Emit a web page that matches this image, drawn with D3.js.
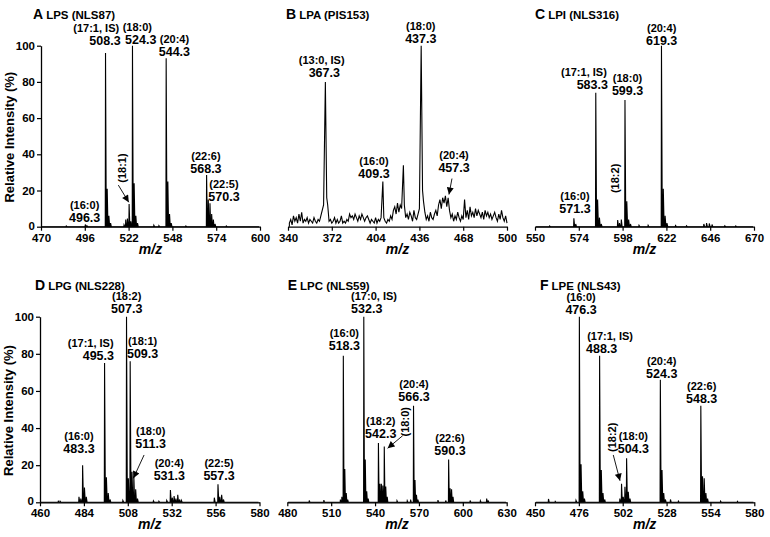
<!DOCTYPE html>
<html><head><meta charset="utf-8">
<script src="https://cdn.jsdelivr.net/npm/d3@7"></script>
<style>
body{margin:0;background:#fff}
svg{display:block}
text{font-family:"Liberation Sans",Arial,Helvetica,sans-serif;font-weight:bold;fill:#000}
</style>
</head><body>
<svg id="chart" width="770" height="537"></svg>
<script>
// ---------------- DATA ----------------
const yTickValues = [0, 20, 40, 60, 80, 100];

const ticksA = [470, 496, 522, 548, 574, 600];
const ticksB = [340, 372, 404, 436, 468, 500];
const ticksC = [550, 574, 598, 622, 646, 670];
const ticksD = [460, 484, 508, 532, 556, 580];
const ticksE = [480, 510, 540, 570, 600, 630];
const ticksF = [450, 476, 502, 528, 554, 580];

// [m/z, relative intensity %]
const peaksA = [[485,0.4],[496.3,1.2],[497.3,0.5],[508.3,96],[509.3,21],[510.3,6],[511.3,2],[519.3,1],[520.3,4],[521.3,4.5],[522.3,12.5],[523.3,3],
  [524.3,100],[525.3,24],[526.3,6],[527.3,2],[537,0.8],[540,0.6],[544.3,93],[545.3,25],[546.3,7],[547.3,2],[556,0.4],
  [568.3,28.5],[569.3,15],[570.3,13],[571.3,7],[572.3,4],[573.3,1.5],[580,0.4]];

const peaksB = [[367.3,80],[368.3,16],[409.3,25],[424.3,34],[437.3,100],[438.3,20]];
const noiseStartB = 341;
const noiseB = [2,4,1,6,3,5,2,7,3,8,2,4,3,5,2,4,3,2,5,3,2,4,3,6,9,12,0,0,12,3,4,2,3,5,2,4,2,3,6,2,3,2,4,3,7,5,6,4,7,5,3,6,4,7,5,3,5,6,4,2,
  4,3,2,5,2,4,3,5,0,5,3,2,4,3,6,4,9,11,7,13,8,12,10,0,12,5,7,4,8,6,3,9,5,4,7,10,0,0,14,8,4,6,3,8,5,4,7,9,6,12,15,10,16,13,17,11,16,9,
  5,7,3,6,4,8,5,3,6,4,15,5,9,4,11,6,8,5,10,6,9,7,5,8,4,9,6,8,5,7,4,6,8,5,3,7,4,9,5,3,6,2];

const peaksC = [[558,0.4],[571.3,4.6],[572.3,1.5],[583.3,74],[584.3,15],[585.3,5],[586.3,1.5],[595.3,3.7],[596.3,2],[597.3,4],
  [599.3,70],[600.3,14],[601.3,4],[602.3,1.5],[607,0.8],[612,0.8],[619.3,100],[620.3,21],[621.3,6],[622.3,2],[627,0.6],[633,0.5],
  [642.5,1.5],[644,2],[645.5,1.8],[647,1.2],[654,0.5],[660,0.4]];

const peaksD = [[470,0.6],[471,0.6],[481.3,3],[482.3,2],[483.3,20],[484.3,8],[485.3,3],[495.3,75],[496.3,13.5],[497.3,5],[498.3,1.5],
  [505.3,1],[507.3,100],[508.3,13],[509.3,76],[510.3,16.5],[511.3,14],[512.3,7],[513.3,2],[522,0.8],[525,0.6],[529.3,1],
  [531.3,6.6],[532.3,2.5],[533.3,3.4],[534.3,2],[535.3,4],[536.3,1.5],[537.3,1],[555.3,2.5],[557.3,9.7],[558.3,3],[559.3,4],[560.3,1.5]];

const peaksE = [[495,1],[505,1.2],[516.3,1.5],[517.3,3],[518.3,79],[519.3,18],[520.3,5],[521.3,1.5],[532.3,100],[533.3,23],[534.3,6],
  [535.3,2],[542.3,32],[543.3,10],[544.3,10],[545.3,9],[546.3,30],[547.3,8.5],[548.3,3],[555,0.8],[562,0.8],[564.3,1.5],[566.3,52],
  [567.3,12],[568.3,4],[569.3,1.5],[583,1.2],[588.3,1],[590.3,23],[591.3,7.5],[592.3,7],[593.3,3],[605,1],[612,0.8],[616.3,2],[617.3,1]];

const peaksF = [[458,1.8],[462,0.5],[474.3,1],[476.3,100],[477.3,20.5],[478.3,6],[479.3,2],[488.3,79],[489.3,17.4],[490.3,5],[491.3,1.5],
  [500.3,2],[501.3,10],[502.3,3],[503.3,8.4],[504.3,23.7],[505.3,5.7],[506.3,2],[524.3,66],[525.3,17.4],[526.3,5],[527.3,1.5],
  [530.3,1.5],[535,0.6],[548.3,52],[549.3,14],[550.3,13],[551.3,5],[552.3,2],[560,0.6],[570,0.5]];

// annotations: [line1, line2, m/z centre line1, m/z centre line2, intensity at baseline of line2]
const annA = [["(16:0)","496.3",495.9,495.9,2.8],["(17:1, IS)","508.3",502.8,508.0,100.4],["(18:0)","524.3",527.2,529.2,100.9],
  ["(20:4)","544.3",549.2,549.2,94.3],["(22:6)","568.3",567.9,567.9,29.8],["(22:5)","570.3",578.6,578.6,14.2]];
const annB = [["(13:0, IS)","367.3",364.6,366.5,82.5],["(16:0)","409.3",402.8,402.8,26.7],["(18:0)","437.3",437.0,437.0,101.7],
  ["(20:4)","457.3",461.3,461.3,30.4]];
const annC = [["(17:1, IS)","583.3",576.8,581.4,75.9],["(18:0)","599.3",600.7,600.7,72.8],["(20:4)","619.3",619.4,619.4,100.4],
  ["(16:0)","571.3",571.9,571.9,7.4]];
const annD = [["(16:0)","483.3",481.3,481.3,26.7],["(17:1, IS)","495.3",487.7,491.9,76.7],["(18:2)","507.3",507.4,507.4,101.8],
  ["(18:1)","509.3",516.1,516.1,77.9],["(18:0)","511.3",520.5,520.5,29.1],["(20:4)","531.3",530.7,530.7,12.0],["(22:5)","557.3",557.9,557.9,12.0]];
const annE = [["(16:0)","518.3",519.0,519.0,82.1],["(17:0, IS)","532.3",539.3,534.3,102.2],["(18:2)","542.3",543.9,543.9,34.5],
  ["(20:4)","566.3",566.6,566.6,54.6],["(22:6)","590.3",591.2,591.2,25.5]];
const annF = [["(16:0)","476.3",477.3,477.3,101.3],["(17:1, IS)","488.3",494.5,489.5,80.3],["(18:0)","504.3",508.3,508.3,26.7],
  ["(20:4)","524.3",525.1,525.1,67.1],["(22:6)","548.3",548.8,548.8,53.7]];

// rotated labels: [text, m/z centre, intensity centre]
const rotA = [["(18:1)",517.9,32.4]];
const rotC = [["(18:2)",593.8,26.7]];
const rotE = [["(18:0)",560.5,43.4]];
const rotF = [["(18:2)",495.8,35.0]];

// arrows: [m/z start, intensity start, m/z tip, intensity tip]
const arrA = [[515.9,23.0,522.1,13.5]];
const arrB = [[459.8,26.6,457.6,17.8]];
const arrD = [[516.9,25.5,511.0,12.9]];
const arrE = [[558.9,35.9,548.6,29.1]];
const arrF = [[496.4,25.5,500.4,11.6]];

const titles = [["A","LPS (NLS87)"],["B","LPA (PIS153)"],["C","LPI (NLS316)"],["D","LPG (NLS228)"],["E","LPC (NLS59)"],["F","LPE (NLS43)"]];

// ---------------- LAYOUT ----------------
const panels = [
  {title:titles[0], ticks:ticksA, peaks:peaksA, ann:annA, rot:rotA, arr:arrA, xr:[41,260],    yr:[226.7,45.7], yAxis:true,  tx:33},
  {title:titles[1], ticks:ticksB, peaks:peaksB, ann:annB, rot:[],   arr:arrB, xr:[288,507],   yr:[226.7,45.7], yAxis:false, tx:286, noisy:true},
  {title:titles[2], ticks:ticksC, peaks:peaksC, ann:annC, rot:rotC, arr:[],   xr:[535,754],   yr:[226.7,45.7], yAxis:false, tx:535},
  {title:titles[3], ticks:ticksD, peaks:peaksD, ann:annD, rot:[],   arr:arrD, xr:[40,259.5],  yr:[502.3,316.7], yAxis:true,  tx:35},
  {title:titles[4], ticks:ticksE, peaks:peaksE, ann:annE, rot:rotE, arr:arrE, xr:[287.3,506.7], yr:[502.3,316.7], yAxis:false, tx:287.7},
  {title:titles[5], ticks:ticksF, peaks:peaksF, ann:annF, rot:rotF, arr:arrF, xr:[535,754.3], yr:[502.3,316.7], yAxis:false, tx:540}
];

const svg = d3.select("#chart");
svg.append("defs").append("marker")
  .attr("id","ah").attr("viewBox","0 0 10 10").attr("refX",10).attr("refY",5)
  .attr("markerUnits","userSpaceOnUse").attr("markerWidth",8).attr("markerHeight",7)
  .attr("orient","auto")
  .append("path").attr("d","M0,0 L10,5 L0,10 Z").attr("fill","#000");

panels.forEach(p => {
  const x = d3.scaleLinear().domain([p.ticks[0], p.ticks[p.ticks.length-1]]).range(p.xr);
  const y = d3.scaleLinear().domain([0,100]).range(p.yr);
  const g = svg.append("g");

  // profile points
  let pts;
  if (p.noisy) {
    const noisePts = noiseB.map((v,i) => [noiseStartB + i, v]).filter(d => d[1] > 0);
    pts = noisePts.concat(p.peaks).sort((a,b) => a[0]-b[0]);
    pts = [[p.ticks[0]+1, 0]].concat(pts);
  } else {
    pts = [[p.ticks[0]+0.5, 0]];
    p.peaks.slice().sort((a,b)=>a[0]-b[0]).forEach(([m,h]) => {
      pts.push([m-0.15, 0], [m, h], [m+0.45, 0]);
    });
    pts.push([p.ticks[p.ticks.length-1]-0.5, 0]);
  }
  const line = d3.line().x(d => x(d[0])).y(d => y(d[1]));
  g.append("path").datum(pts).attr("d", line)
    .attr("fill","none").attr("stroke","#000").attr("stroke-width",1.1).attr("stroke-linejoin","miter");

  // x axis
  const xa = g.append("g").attr("transform",`translate(0,${p.yr[0]})`)
    .call(d3.axisBottom(x).tickValues(p.ticks).tickFormat(d3.format("d")).tickSizeOuter(0).tickSizeInner(4).tickPadding(3));
  xa.select(".domain").attr("stroke-width",1.3);
  xa.selectAll(".tick line").attr("stroke-width",1.2);
  xa.selectAll("text").attr("font-size",11.5).style("font-family",'"Liberation Sans",Arial,sans-serif').style("font-weight","bold");
  g.append("text").attr("x",(p.xr[0]+p.xr[1])/2).attr("y",p.yr[0]+27)
    .attr("text-anchor","middle").attr("font-size",14).attr("font-style","italic").text("m/z");

  // y axis
  if (p.yAxis) {
    const ya = g.append("g").attr("transform",`translate(${p.xr[0]},0)`)
      .call(d3.axisLeft(y).tickValues(yTickValues).tickSizeOuter(0).tickSizeInner(4).tickPadding(2));
    ya.select(".domain").attr("stroke-width",1.3);
    ya.selectAll(".tick line").attr("stroke-width",1.2);
    ya.selectAll("text").attr("font-size",11.5).style("font-family",'"Liberation Sans",Arial,sans-serif').style("font-weight","bold");
    ya.selectAll(".tick").filter(d => d === 0).select("text").attr("dy","0.2em");
    const cy = (p.yr[0]+p.yr[1])/2 + 1;
    g.append("text").attr("transform",`translate(${p.xr[0]-27},${cy}) rotate(-90)`)
      .attr("text-anchor","middle").attr("font-size",13).text("Relative Intensity (%)");
  }

  // title
  const t = g.append("text").attr("x",p.tx).attr("y",p.yr[1]-26.5);
  t.append("tspan").attr("font-size",14).text(p.title[0]);
  t.append("tspan").attr("font-size",11.5).attr("dx",3).text(p.title[1]);

  // annotations
  p.ann.forEach(([l1,l2,m1,m2,v]) => {
    g.append("text").attr("x",x(m1)).attr("y",y(v)-13).attr("text-anchor","middle").attr("font-size",11).text(l1);
    g.append("text").attr("x",x(m2)).attr("y",y(v)).attr("text-anchor","middle").attr("font-size",12.5).text(l2);
  });
  p.rot.forEach(([l,m,v]) => {
    g.append("text").attr("transform",`translate(${x(m)+4},${y(v)}) rotate(-90)`)
      .attr("text-anchor","middle").attr("font-size",11).text(l);
  });
  p.arr.forEach(([m1,v1,m2,v2]) => {
    g.append("line").attr("x1",x(m1)).attr("y1",y(v1)).attr("x2",x(m2)).attr("y2",y(v2))
      .attr("stroke","#000").attr("stroke-width",0.9).attr("marker-end","url(#ah)");
  });
});
</script>
</body></html>
